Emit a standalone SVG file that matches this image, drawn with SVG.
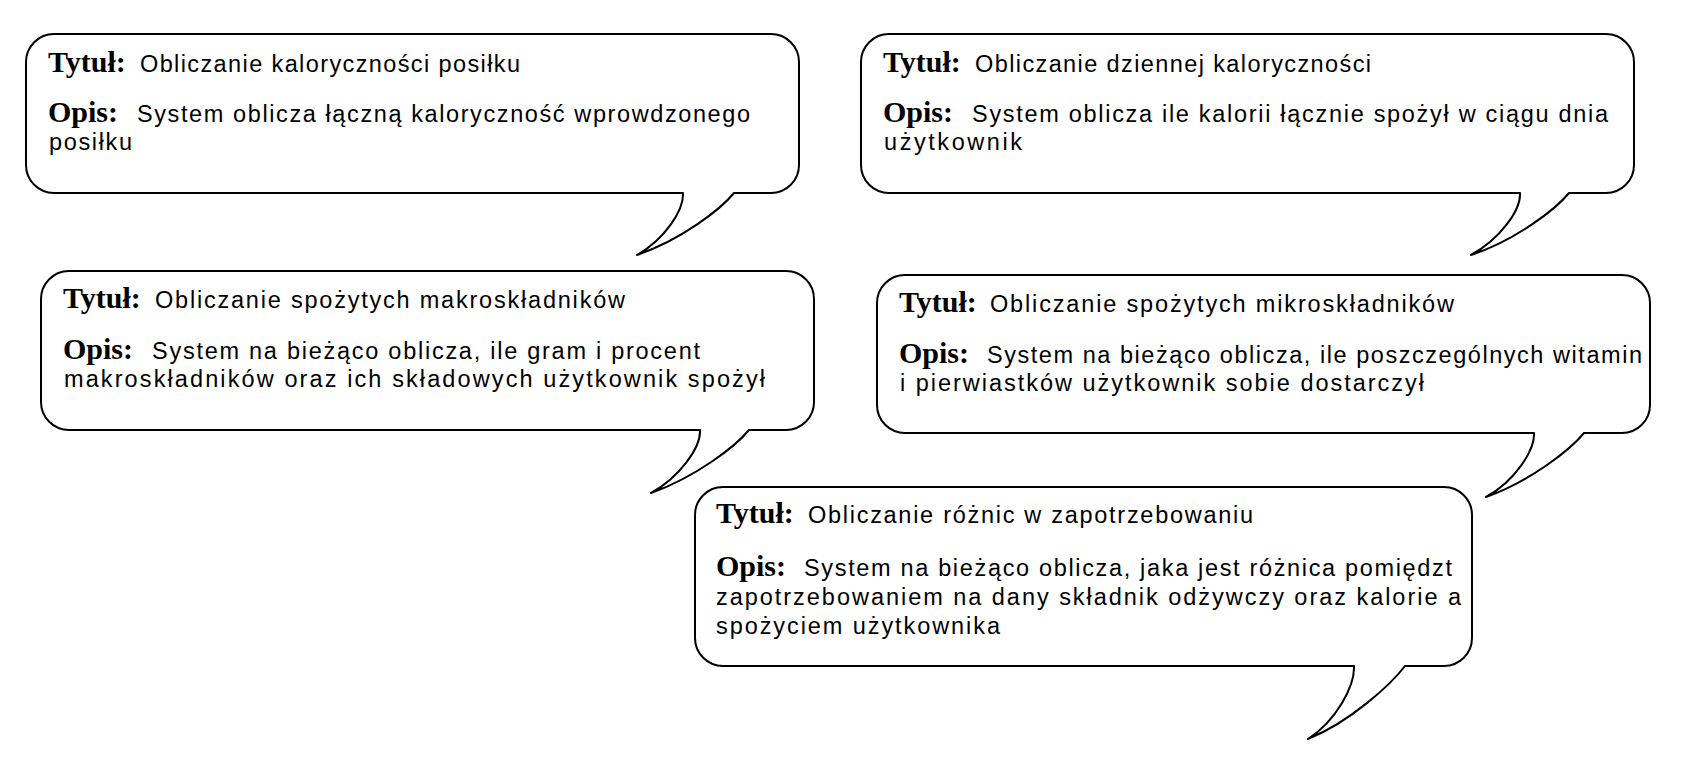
<svg xmlns="http://www.w3.org/2000/svg" width="1688" height="769" viewBox="0 0 1688 769">
<style>
.bubble{fill:#fff;stroke:#000;stroke-width:2;stroke-linejoin:round}
.lbl{font-family:"Liberation Serif","Times New Roman",serif;font-weight:bold;font-size:30px;fill:#000}
.txt{font-family:"Liberation Sans",Arial,sans-serif;font-size:23.5px;fill:#000}
</style>
<rect width="1688" height="769" fill="#fff"/>
<g id="bubble1">
<path class="bubble" d="M54 34 H771 A28 28 0 0 1 799 62 V165 A28 28 0 0 1 771 193 H734 C721 209 681 240 637 255 C665 239 684 210 683 193 H54 A28 28 0 0 1 26 165 V62 A28 28 0 0 1 54 34 Z"/>
<text class="lbl" x="48" y="72">Tytuł:</text>
<text class="txt" x="140" y="72" textLength="380" lengthAdjust="spacing">Obliczanie kaloryczności posiłku</text>
<text class="lbl" x="48" y="122">Opis:</text>
<text class="txt" x="137" y="122" textLength="613" lengthAdjust="spacing">System oblicza łączną kaloryczność wprowdzonego</text>
<text class="txt" x="49" y="150" textLength="83" lengthAdjust="spacing">posiłku</text>
</g>
<g id="bubble2">
<path class="bubble" d="M889 34 H1606 A28 28 0 0 1 1634 62 V165 A28 28 0 0 1 1606 193 H1569 C1556 209 1516 240 1471 255 C1500 239 1521 210 1520 193 H889 A28 28 0 0 1 861 165 V62 A28 28 0 0 1 889 34 Z"/>
<text class="lbl" x="883" y="72">Tytuł:</text>
<text class="txt" x="975" y="72" textLength="396" lengthAdjust="spacing">Obliczanie dziennej kaloryczności</text>
<text class="lbl" x="883" y="122">Opis:</text>
<text class="txt" x="972" y="122" textLength="636" lengthAdjust="spacing">System oblicza ile kalorii łącznie spożył w ciągu dnia</text>
<text class="txt" x="884" y="150" textLength="138" lengthAdjust="spacing">użytkownik</text>
</g>
<g id="bubble3">
<path class="bubble" d="M69 271 H786 A28 28 0 0 1 814 299 V402 A28 28 0 0 1 786 430 H749 C736 446 696 477 651 493 C680 477 701 447 700 430 H69 A28 28 0 0 1 41 402 V299 A28 28 0 0 1 69 271 Z"/>
<text class="lbl" x="63" y="308">Tytuł:</text>
<text class="txt" x="155" y="308" textLength="470" lengthAdjust="spacing">Obliczanie spożytych makroskładników</text>
<text class="lbl" x="63" y="359">Opis:</text>
<text class="txt" x="152" y="359" textLength="548" lengthAdjust="spacing">System na bieżąco oblicza, ile gram i procent</text>
<text class="txt" x="64" y="387" textLength="701" lengthAdjust="spacing">makroskładników oraz ich składowych użytkownik spożył</text>
</g>
<g id="bubble4">
<path class="bubble" d="M905 275 H1622 A28 28 0 0 1 1650 303 V405 A28 28 0 0 1 1622 433 H1584 C1571 449 1531 481 1486 497 C1515 481 1535 450 1534 433 H905 A28 28 0 0 1 877 405 V303 A28 28 0 0 1 905 275 Z"/>
<text class="lbl" x="899" y="312">Tytuł:</text>
<text class="txt" x="990" y="312" textLength="464" lengthAdjust="spacing">Obliczanie spożytych mikroskładników</text>
<text class="lbl" x="899" y="363">Opis:</text>
<text class="txt" x="987" y="363" textLength="655" lengthAdjust="spacing">System na bieżąco oblicza, ile poszczególnych witamin</text>
<text class="txt" x="900" y="391" textLength="524" lengthAdjust="spacing">i pierwiastków użytkownik sobie dostarczył</text>
</g>
<g id="bubble5">
<path class="bubble" d="M723 487 H1444 A28 28 0 0 1 1472 515 V638 A28 28 0 0 1 1444 666 H1405 C1392 683 1352 721 1308 739 C1336 721 1355 686 1354 666 H723 A28 28 0 0 1 695 638 V515 A28 28 0 0 1 723 487 Z"/>
<text class="lbl" x="716" y="523">Tytuł:</text>
<text class="txt" x="808" y="523" textLength="445" lengthAdjust="spacing">Obliczanie różnic w zapotrzebowaniu</text>
<text class="lbl" x="716" y="576">Opis:</text>
<text class="txt" x="804" y="576" textLength="648" lengthAdjust="spacing">System na bieżąco oblicza, jaka jest różnica pomiędzt</text>
<text class="txt" x="716" y="605" textLength="745" lengthAdjust="spacing">zapotrzebowaniem na dany składnik odżywczy oraz kalorie a</text>
<text class="txt" x="716" y="634" textLength="284" lengthAdjust="spacing">spożyciem użytkownika</text>
</g>
<g id="connectors"></g>
</svg>
